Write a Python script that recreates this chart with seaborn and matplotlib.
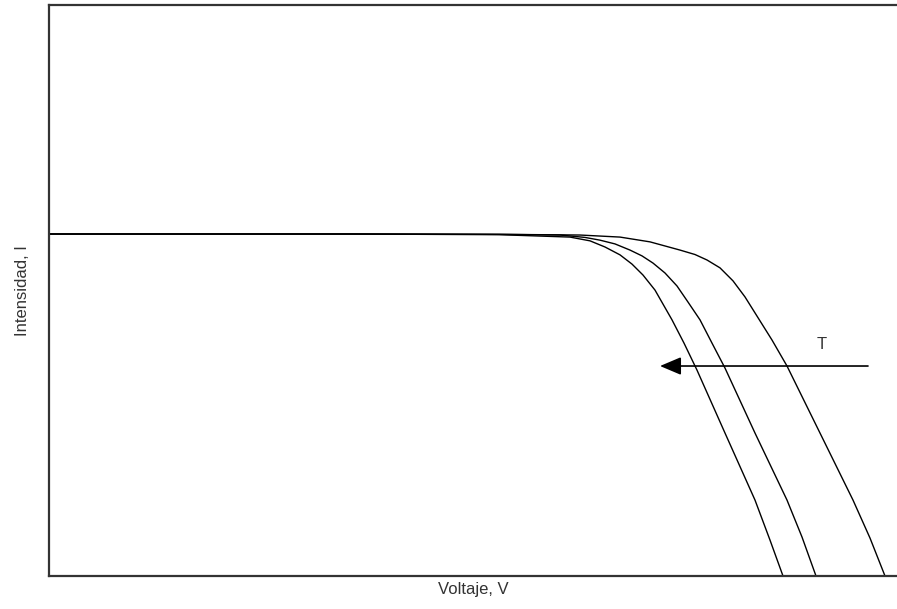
import matplotlib
matplotlib.use("Agg")
import matplotlib.pyplot as plt
import pandas as pd
import seaborn as sns

# I-V curves of a solar cell at three temperatures (arbitrary units)
v_low_t = [0.0, 0.30, 0.45, 0.531, 0.571, 0.601, 0.631, 0.646, 0.658, 0.671,
           0.684, 0.696, 0.708, 0.723, 0.738, 0.771, 0.804, 0.821, 0.836]
i_low_t = [1.0, 1.0, 0.999, 0.997, 0.991, 0.977, 0.953, 0.940, 0.924, 0.901,
           0.863, 0.816, 0.760, 0.690, 0.614, 0.418, 0.222, 0.111, 0.0]

v_mid_t = [0.0, 0.30, 0.45, 0.511, 0.536, 0.551, 0.566, 0.581, 0.593, 0.604,
           0.616, 0.628, 0.639, 0.651, 0.663, 0.676, 0.706, 0.738, 0.753, 0.767]
i_mid_t = [1.0, 1.0, 0.999, 0.997, 0.990, 0.982, 0.971, 0.953, 0.936, 0.915,
           0.886, 0.848, 0.801, 0.749, 0.681, 0.608, 0.418, 0.222, 0.114, 0.0]

v_high_t = [0.0, 0.30, 0.45, 0.521, 0.541, 0.556, 0.571, 0.583, 0.594, 0.606,
            0.623, 0.635, 0.648, 0.676, 0.706, 0.721, 0.734]
i_high_t = [1.0, 1.0, 0.998, 0.991, 0.980, 0.962, 0.939, 0.912, 0.880, 0.836,
            0.749, 0.681, 0.602, 0.418, 0.222, 0.105, 0.0]

curves = {"T1": (v_low_t, i_low_t), "T2": (v_mid_t, i_mid_t), "T3": (v_high_t, i_high_t)}
df = pd.concat(
    [pd.DataFrame({"V": v, "I": i, "curva": name}) for name, (v, i) in curves.items()],
    ignore_index=True,
)

sns.set_style("white")
plt.rcParams["font.family"] = ["Liberation Sans", "DejaVu Sans"]

fig = plt.figure(figsize=(8.97, 6.09), dpi=100)
ax = fig.add_axes([49 / 897, 33 / 609, 1 - 49 / 897, 571 / 609])

sns.lineplot(data=df, x="V", y="I", hue="curva", palette=["black"] * 3,
             sort=False, estimator=None, linewidth=1.0, legend=False, ax=ax)

ax.set_xlim(0, 0.848)
ax.set_ylim(0, 1.6696)
ax.set_xticks([])
ax.set_yticks([])
ax.set_xlabel("Voltaje, V", fontsize=12, color="#333333", labelpad=4)
ax.set_ylabel("Intensidad, I", fontsize=12, color="#333333", labelpad=14)

for side in ("left", "top", "bottom"):
    ax.spines[side].set_color("#333333")
    ax.spines[side].set_linewidth(1.6)
ax.spines["right"].set_visible(False)

# Arrow indicating increasing temperature
ax.annotate("", xy=(0.611, 0.614), xytext=(0.819, 0.614),
            arrowprops=dict(arrowstyle="-|>,head_length=1.3,head_width=0.55",
                            color="black", lw=1.2, shrinkA=0, shrinkB=0))
ax.text(0.773, 0.655, "T", fontsize=12, color="#333333", ha="center", va="bottom")

fig.savefig("out.png", dpi=100)
